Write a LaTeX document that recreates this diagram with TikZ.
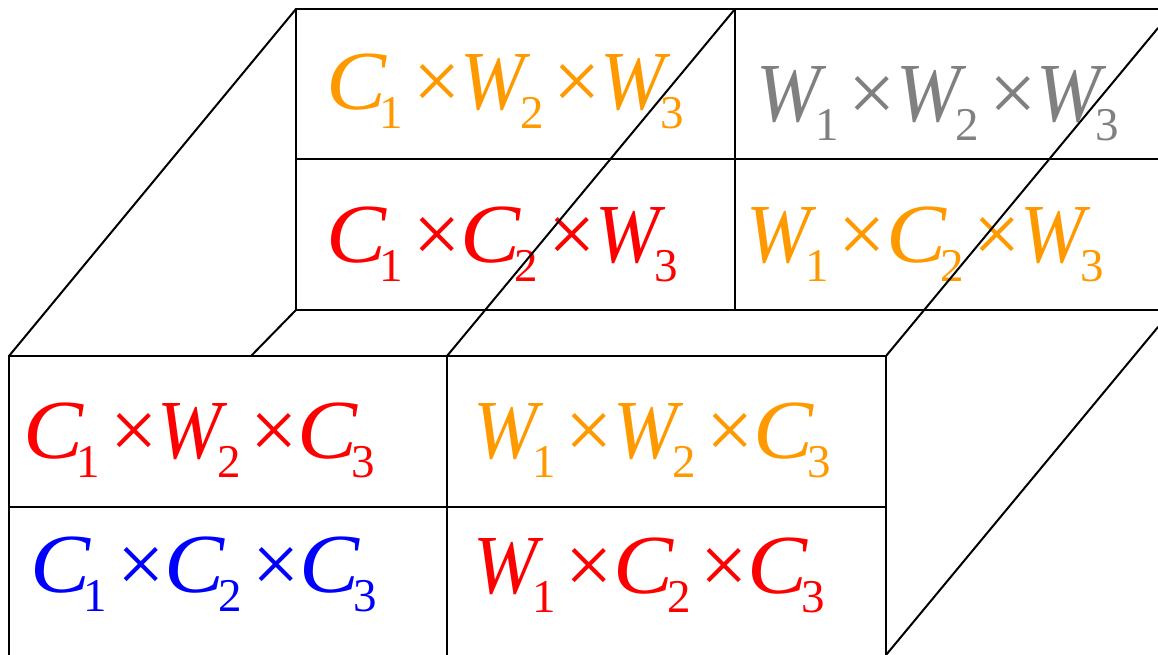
\documentclass[tikz,border=0pt]{standalone}
\usepackage{fontspec}
\setmainfont{Liberation Serif}
\definecolor{porange}{RGB}{255,153,0}
\definecolor{pgray}{RGB}{128,128,128}
\definecolor{pred}{RGB}{255,0,0}
\definecolor{pblue}{RGB}{0,0,255}
\newcommand\subd[1]{{\fontsize{47}{47}\selectfont\raisebox{-19pt}{#1}}}
\newcommand\vW[1]{\scalebox{0.92}[1]{\textit{W}}\kern-11pt\subd{#1}}
\newcommand\vC[1]{\scalebox{1.07}[1]{\textit{C}}\kern-7pt\subd{#1}}
\newcommand\tm{\kern 10pt×}
\tikzset{
  edge/.style={line width=2pt, line cap=round, line join=round},
  lab/.style={anchor=base west, inner sep=0pt, font=\fontsize{84}{84}\selectfont},
}
\begin{document}
\begin{tikzpicture}[x=1pt,y=-1pt]
\useasboundingbox (0,0) rectangle (1158,655);
% back panel corners
\coordinate (btl) at (296,9);
\coordinate (btm) at (735,9);
\coordinate (btr) at (1158,9);
\coordinate (bml) at (296,159);
\coordinate (bmr) at (1158,159);
\coordinate (bbl) at (296,310);
\coordinate (bbm) at (735,310);
\coordinate (bbr) at (1158,310);
% front panel corners
\coordinate (ftl) at (9,356);
\coordinate (ftm) at (447,356);
\coordinate (ftr) at (886,356);
\coordinate (fml) at (9,507);
\coordinate (fmr) at (886,507);
\coordinate (fbl) at (9,655);
\coordinate (fbm) at (447,655);
\coordinate (fbr) at (886,655);
% cropped / hidden ends
\coordinate (rtop) at (1158,28);
\coordinate (rbot) at (1158,327);
\coordinate (hid) at (251,356);

% labels
\node[lab, text=porange] (bl1) at (326,110) {\vC{1}\tm\vW{2}\tm\vW{3}};
\node[lab, text=pred]    (bl2) at (326,262) {\vC{1}\tm\vC{2}\tm\vW{3}};
\node[lab, text=pgray]   (br1) at (756,122) {\vW{1}\tm\vW{2}\tm\vW{3}};
\node[lab, text=porange] (br2) at (746,262) {\vW{1}\tm\vC{2}\tm\vW{3}};
\node[lab, text=pred]    (fl1) at (23,458)  {\vC{1}\tm\vW{2}\tm\vC{3}};
\node[lab, text=pblue]   (fl2) at (30,592)  {\vC{1}\tm\vC{2}\tm\vC{3}};
\node[lab, text=porange] (fr1) at (473,458) {\vW{1}\tm\vW{2}\tm\vC{3}};
\node[lab, text=pred]    (fr2) at (473,593) {\vW{1}\tm\vC{2}\tm\vC{3}};

% back panel
\draw[edge] (btl) -- (btr);
\draw[edge] (bml) -- (bmr);
\draw[edge] (bbl) -- (bbr);
\draw[edge] (btl) -- (bbl);
\draw[edge] (btm) -- (bbm);
% front panel
\draw[edge] (ftl) -- (ftr);
\draw[edge] (fml) -- (fmr);
\draw[edge] (ftl) -- (fbl);
\draw[edge] (ftm) -- (fbm);
\draw[edge] (ftr) -- (fbr);
% depth edges
\draw[edge] (ftl) -- (btl);
\draw[edge] (ftm) -- (btm);
\draw[edge] (ftr) -- (rtop);
\draw[edge] (fbr) -- (rbot);
\draw[edge] (bbl) -- (hid);
\end{tikzpicture}
\end{document}
